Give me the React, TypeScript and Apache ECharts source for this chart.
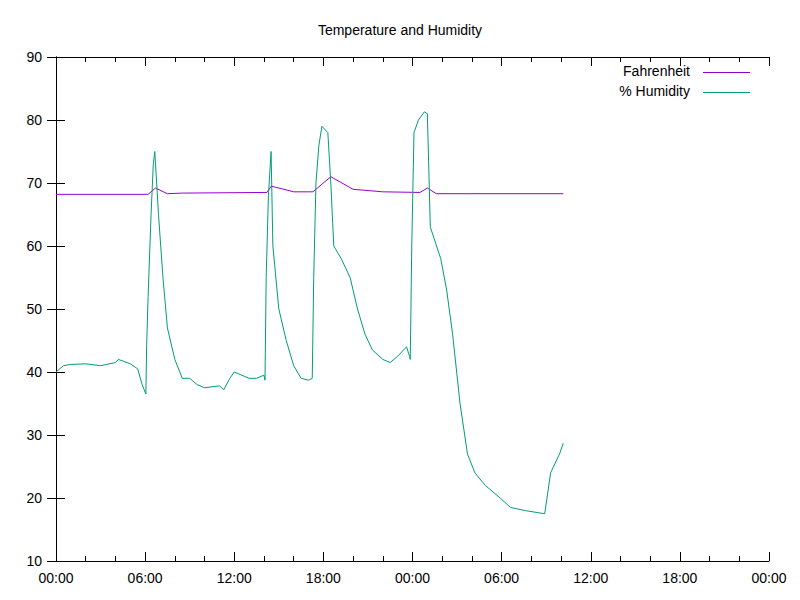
import React, { useEffect, useRef } from "react";
import * as echarts from "echarts";

const humX = [0,0.5,1,2,3,4,4.2,5,5.5,5.8,6.05,6.1,6.2,6.4,6.55,6.65,6.9,7.2,7.5,8,8.5,9,9.5,10,11,11.3,11.7,12,12.5,13,13.5,14,14.07,14.15,14.3,14.48,14.6,15,15.5,16,16.5,17,17.25,17.35,17.5,17.7,17.9,18.3,18.5,18.7,19.2,19.8,20.3,20.8,21.3,22,22.5,23,23.2,23.6,23.8,23.85,23.95,24.1,24.4,24.8,25.0,25.2,25.9,26.3,26.7,27.2,27.7,28.2,28.9,29.9,30.6,31.6,32.9,33.3,33.9,34.15];
const humY = [40,41,41.2,41.3,41,41.5,42,41.3,40.5,38,36.5,44,52,65,73,75,65,55,47,42,39,39,38,37.5,37.8,37.2,39,40,39.5,39,39,39.5,38.7,55,68,75,60,50,45,41,39,38.7,39,55,70,76,79,78,70,60,58,55,50,46,43.5,42,41.5,42.5,43,44,42.5,42,60,78,80,81.3,81,63,58,53,46,35,27,24,22,20,18.5,18,17.5,24,27,28.7];
const tmpX = [0,6.2,6.7,7.5,8.5,14.2,14.5,16,17.3,18.5,20,22,24.5,25,25.6,28,34.15];
const tmpY = [68.2,68.2,69.2,68.3,68.4,68.5,69.5,68.6,68.6,71,69,68.6,68.5,69.2,68.3,68.3,68.3];
const xTicks = ["00:00","06:00","12:00","18:00","00:00","06:00","12:00","18:00","00:00"];

const toPairs = (xs: number[], ys: number[]) => xs.map((x, i) => [x, ys[i]]);
const F = "Liberation Sans";

export default function App() {
  const ref = useRef<HTMLDivElement>(null);
  useEffect(() => {
    const c = echarts.init(ref.current!, null, { renderer: "svg" });
    const axX = (show: boolean, pos: string) => ({
      type: "value", min: 0, max: 48, interval: 6, position: pos,
      axisLine: { show: true, lineStyle: { color: "#000" } },
      axisTick: { show: true, inside: true, length: 9, lineStyle: { color: "#000" } },
      minorTick: { show: true, splitNumber: 3, length: 5, lineStyle: { color: "#000" } },
      splitLine: { show: false },
      axisLabel: { show, color: "#000", fontFamily: F, fontSize: 14, margin: 10,
        formatter: (v: number) => xTicks[Math.round(v / 6)] },
    });
    const axY = (show: boolean, pos: string) => ({
      type: "value", min: 10, max: 90, interval: 10, position: pos,
      axisLine: { show: true, lineStyle: { color: "#000" } },
      axisTick: { show: true, inside: true, length: 9, lineStyle: { color: "#000" } },
      splitLine: { show: false },
      axisLabel: { show, color: "#000", fontFamily: F, fontSize: 14, margin: 14 },
    });
    c.setOption({
      animation: false,
      title: { text: "Temperature and Humidity", left: "center", top: 18,
        textStyle: { fontFamily: F, fontSize: 14, fontWeight: "normal", color: "#000" } },
      grid: { left: 56, right: 31, top: 57, bottom: 39 },
      xAxis: [axX(true, "bottom"), axX(false, "top")],
      yAxis: [axY(true, "left"), axY(false, "right")],
      series: [
        { type: "line", name: "Fahrenheit", data: toPairs(tmpX, tmpY), showSymbol: false,
          lineStyle: { color: "#9400d3", width: 1 }, itemStyle: { color: "#9400d3" } },
        { type: "line", name: "% Humidity", data: toPairs(humX, humY), showSymbol: false,
          lineStyle: { color: "#009e73", width: 1 }, itemStyle: { color: "#009e73" } },
      ],
      graphic: [
        { type: "text", right: 110, top: 64, style: { text: "Fahrenheit", fontFamily: F, fontSize: 14, fill: "#000", textAlign: "right" } },
        { type: "line", shape: { x1: 703, y1: 72.5, x2: 750, y2: 72.5 }, style: { stroke: "#9400d3", lineWidth: 1 } },
        { type: "text", right: 110, top: 84, style: { text: "% Humidity", fontFamily: F, fontSize: 14, fill: "#000", textAlign: "right" } },
        { type: "line", shape: { x1: 703, y1: 92.5, x2: 750, y2: 92.5 }, style: { stroke: "#009e73", lineWidth: 1 } },
      ],
    });
    return () => c.dispose();
  }, []);
  return <div ref={ref} style={{ position: "fixed", left: 0, top: 0, width: 800, height: 600, background: "#fff" }} />;
}
